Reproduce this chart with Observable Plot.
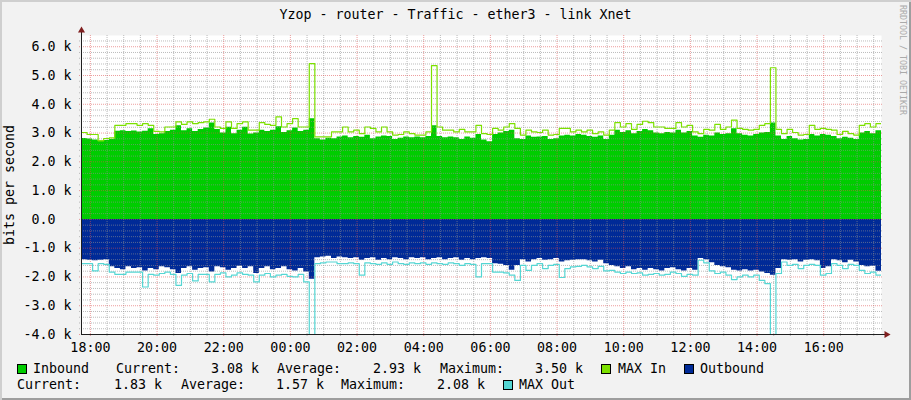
<!DOCTYPE html>
<html><head><meta charset="utf-8">
<script src="https://cdn.jsdelivr.net/npm/d3@7"></script>
<script src="https://cdn.jsdelivr.net/npm/@observablehq/plot@0.6"></script>
<style>
html,body{margin:0;padding:0;background:#f2f2f2;}
#wrap{position:relative;width:911px;height:400px;background:#f2f2f2;overflow:hidden;
  font-family:"DejaVu Sans Mono",monospace;font-size:13.3px;color:#000;
  box-shadow: inset 2px 2px 0 #cfcfcf, inset -2px -2px 0 #9e9e9e;}
#wrap svg{position:absolute;left:0;top:0;}
.t{position:absolute;white-space:pre;line-height:16px;}
.sw{position:absolute;width:8px;height:8px;border:1px solid #000;}
</style></head><body><div id="wrap"></div>
<script>
// ---- data (k bits per second), one value per 10 minutes from 17:44 ----
const titleText = "Yzop - router - Traffic - ether3 - link Xnet";
const yLabel = "bits per second";
const watermark = "RRDTOOL / TOBI OETIKER";
const startUTC = [2024, 0, 1, 17, 44];
const stepMinutes = 10;
const yTicks = [-4, -3, -2, -1, 0, 1, 2, 3, 4, 5, 6];
const seriesNames = ["Inbound", "MAX In", "Outbound", "MAX Out"];
const seriesColors = ["#00CC00", "#7CE000", "#002A97", "#55D6D3"];

const inbound = [
2.81,2.79,2.76,2.72,2.74,2.78,3.06,3.08,3.05,3.07,
3.04,3.06,3.15,2.95,2.98,3.05,3.10,3.25,3.08,3.15,
3.05,3.12,3.18,3.35,3.12,3.00,3.20,2.98,3.10,3.20,
2.97,3.00,3.10,3.05,3.10,3.22,3.02,3.08,3.18,3.05,
3.10,3.50,2.80,2.76,2.82,2.80,2.86,2.90,2.84,2.88,
2.85,2.92,2.80,2.86,2.90,2.88,2.78,2.82,2.86,2.84,
2.86,2.84,2.88,3.25,2.88,2.84,2.86,2.84,2.78,2.86,
2.82,2.95,
2.76,2.70,2.95,3.00,3.05,3.10,2.80,2.78,2.90,2.85,
2.86,2.88,2.78,2.80,2.90,2.92,2.90,2.95,2.92,2.88,
2.85,2.90,2.78,2.92,3.10,3.02,3.08,2.98,3.05,3.12,
3.08,3.00,2.98,3.02,3.00,3.10,3.00,3.05,2.90,2.85,
2.92,2.90,3.00,2.95,2.98,3.15,2.98,2.92,2.90,2.95,
3.00,3.02,3.35,2.90,2.78,2.88,2.80,2.76,2.78,2.95,
2.90,2.95,2.92,2.88,2.80,2.85,2.82,2.78,3.00,3.05,
2.98,3.08];

const maxIn = [
3.02,2.95,2.95,2.73,2.81,2.83,3.27,3.27,3.33,3.33,
3.27,3.33,3.27,3.06,3.04,3.21,3.21,3.39,3.30,3.39,
3.33,3.36,3.39,3.48,3.21,3.16,3.39,3.16,3.33,3.39,
3.10,3.10,3.36,3.30,3.27,3.56,3.21,3.33,3.50,3.21,
3.21,5.41,2.87,2.87,2.87,3.04,3.04,3.21,3.04,3.10,
2.98,3.21,3.16,3.04,3.21,3.04,2.93,2.95,3.04,2.98,
2.93,2.93,3.04,5.34,3.21,3.10,3.10,3.04,3.13,3.04,
3.04,3.27,
2.98,2.95,3.16,3.10,3.21,3.33,3.16,2.93,3.10,3.04,
3.02,3.10,2.93,2.95,3.16,3.16,3.04,3.10,3.04,3.10,
2.98,3.04,2.93,3.10,3.36,3.21,3.33,3.13,3.30,3.41,
3.36,3.21,3.21,3.16,3.16,3.36,3.21,3.27,3.04,2.98,
3.13,3.10,3.30,3.13,3.21,3.45,3.16,3.13,3.10,3.13,
3.27,3.33,5.27,3.13,2.98,3.13,3.02,2.93,2.95,3.27,
3.13,3.16,3.13,3.10,2.95,3.06,2.98,2.93,3.27,3.33,
3.21,3.33];

const outbound = [
-1.40,-1.42,-1.44,-1.42,-1.40,-1.65,-1.71,-1.75,-1.65,-1.71,
-1.68,-1.79,-1.71,-1.75,-1.65,-1.68,-1.75,-1.88,-1.71,-1.65,
-1.77,-1.71,-1.68,-1.83,-1.65,-1.68,-1.77,-1.71,-1.63,-1.71,
-1.65,-1.88,-1.71,-1.65,-1.75,-1.71,-1.65,-1.75,-1.79,-1.71,
-1.83,-2.08,-1.33,-1.31,-1.28,-1.36,-1.31,-1.33,-1.36,-1.33,
-1.42,-1.36,-1.33,-1.42,-1.36,-1.40,-1.33,-1.36,-1.40,-1.33,
-1.36,-1.33,-1.40,-1.36,-1.33,-1.40,-1.36,-1.33,-1.42,-1.36,
-1.40,-1.36,
-1.33,-1.36,-1.54,-1.56,-1.60,-1.77,-1.60,-1.40,-1.48,-1.40,
-1.36,-1.42,-1.40,-1.36,-1.48,-1.44,-1.42,-1.40,-1.40,-1.44,
-1.48,-1.42,-1.54,-1.60,-1.65,-1.71,-1.65,-1.75,-1.71,-1.77,
-1.71,-1.75,-1.79,-1.71,-1.68,-1.75,-1.79,-1.71,-1.77,-1.36,
-1.40,-1.51,-1.60,-1.65,-1.68,-1.77,-1.79,-1.75,-1.79,-1.77,
-1.83,-1.88,-1.94,-1.71,-1.40,-1.42,-1.40,-1.48,-1.42,-1.40,
-1.44,-1.71,-1.65,-1.40,-1.44,-1.51,-1.42,-1.48,-1.60,-1.65,
-1.63,-1.80];

const maxOut = [
-1.54,-1.54,-1.79,-1.54,-1.56,-1.83,-1.91,-1.91,-1.83,-1.83,
-1.83,-2.35,-1.91,-1.94,-1.88,-1.83,-1.91,-2.29,-1.94,-1.88,
-2.14,-1.91,-1.91,-2.17,-1.91,-1.86,-2.00,-1.94,-1.86,-1.91,
-1.94,-2.17,-1.94,-1.88,-2.00,-1.94,-1.91,-1.98,-2.00,-1.91,
-2.17,-4.30,-1.54,-1.51,-1.48,-1.48,-1.54,-1.54,-1.51,-1.54,
-1.94,-1.51,-1.54,-1.56,-1.51,-1.56,-1.48,-1.54,-1.56,-1.51,
-1.54,-1.51,-1.56,-1.51,-1.54,-1.56,-1.51,-1.54,-1.60,-1.54,
-1.56,-2.00,
-1.54,-1.54,-1.83,-1.83,-1.86,-1.94,-2.12,-1.60,-1.77,-1.60,
-1.54,-1.71,-1.60,-1.56,-2.02,-1.71,-1.65,-1.63,-1.60,-1.65,
-1.71,-1.63,-1.79,-1.77,-1.83,-1.88,-1.83,-1.88,-1.86,-1.94,
-1.91,-1.88,-1.94,-1.91,-1.83,-1.88,-1.98,-1.91,-1.94,-1.42,
-1.51,-1.79,-1.88,-1.83,-1.94,-2.09,-2.00,-1.94,-2.00,-1.94,
-2.12,-2.23,-4.30,-1.88,-1.48,-1.60,-1.56,-1.71,-1.60,-1.56,
-1.60,-1.94,-1.88,-1.54,-1.60,-1.71,-1.56,-1.60,-1.77,-1.88,
-1.83,-1.94];

// legend statistics text
const legendLine1 = [
  ["sw", 17, "#00CC00"], ["Inbound", 33], ["Current:", 116], ["3.08 k", 211],
  ["Average:", 277], ["2.93 k", 373], ["Maximum:", 440], ["3.50 k", 535],
  ["sw", 601, "#7CE000"], ["MAX In", 618], ["sw", 684, "#002A97"], ["Outbound", 700]];
const legendLine2 = [
  ["Current:", 17], ["1.83 k", 114], ["Average:", 181], ["1.57 k", 276],
  ["Maximum:", 341], ["2.08 k", 437], ["sw", 503, "#55D6D3"], ["MAX Out", 519]];

// ---- build ----
const x0 = new Date(Date.UTC(...startUTC));
const x1 = new Date(+x0 + 24 * 3600e3);
const n = inbound.length;
const rows = d3.range(n + 1).map(i => {
  const j = Math.min(i, n - 1);
  return {t: new Date(+x0 + i * stepMinutes * 60e3), inb: inbound[j], out: outbound[j], maxIn: maxIn[j], maxOut: maxOut[j]};
});
const yTop = 6.39, yBot = -4;
const majorX = d3.utcHour.every(2).range(x0, x1);
const minorX = d3.utcMinute.every(30).range(x0, x1).filter(d => !(d.getUTCMinutes() === 0 && d.getUTCHours() % 2 === 0));
const majorY = yTicks;
const minorY = d3.range(-20, 32).map(d => d / 5).filter(d => Math.abs(d - Math.round(d)) > 1e-6);

const fmtY = d => d === 0 ? "0.0\u00a0\u00a0" : d.toFixed(1) + " k";

const chart = Plot.plot({
  width: 911, height: 360,
  marginLeft: 81, marginRight: 30, marginTop: 35, marginBottom: 26,
  style: {background: "transparent", fontFamily: "DejaVu Sans Mono", fontSize: "13.3px", color: "#000", overflow: "visible"},
  x: {type: "utc", domain: [x0, x1]},
  y: {domain: [yBot, yTop]},
  marks: [
    Plot.frame({fill: "white", stroke: null}),
    Plot.areaY(rows, {x: "t", y: "inb", fill: seriesColors[0], curve: "step-after"}),
    Plot.areaY(rows, {x: "t", y: "out", fill: seriesColors[2], curve: "step-after"}),
    Plot.ruleY(minorY, {stroke: "#8f8f8f", strokeOpacity: 0.6, strokeDasharray: "1,1", insetLeft: -2, insetRight: -2}),
    Plot.ruleX(minorX, {stroke: "#8f8f8f", strokeOpacity: 0.6, strokeDasharray: "1,1", insetBottom: -2}),
    Plot.ruleY(majorY, {stroke: "#de4f4f", strokeOpacity: 0.55, strokeDasharray: "1,1", insetLeft: -2, insetRight: -2}),
    Plot.ruleX(majorX, {stroke: "#de4f4f", strokeOpacity: 0.55, strokeDasharray: "1,1", insetBottom: -2}),
    Plot.lineY(rows, {x: "t", y: "maxIn", stroke: seriesColors[1], strokeWidth: 1.2, curve: "step-after", clip: true}),
    Plot.lineY(rows, {x: "t", y: "maxOut", stroke: seriesColors[3], strokeWidth: 1.2, curve: "step-after", clip: true}),
    Plot.ruleX([x0], {stroke: "#1f1f1f", insetTop: -3}),
    Plot.ruleY([yBot], {stroke: "#1f1f1f", insetRight: -4}),
    Plot.dot([{x: x0, y: yTop}], {x: "x", y: "y", symbol: "triangle", r: 2.6, fill: "#801f1f", stroke: null, dy: -5}),
    Plot.dot([{x: x1, y: yBot}], {x: "x", y: "y", symbol: "triangle", r: 2.6, fill: "#801f1f", stroke: null, dx: 5, rotate: 90}),
    Plot.axisX({ticks: majorX, tickFormat: d3.utcFormat("%H:%M"), tickSize: 0, tickPadding: 8}),
    Plot.axisY({ticks: majorY, tickFormat: fmtY, tickSize: 0, tickPadding: 10})
  ]
});
const wrap = document.getElementById("wrap");
wrap.appendChild(chart);

function addText(txt, left, top, extra) {
  const d = document.createElement("div");
  d.className = "t"; d.textContent = txt;
  d.style.left = left + "px"; d.style.top = top + "px";
  if (extra) Object.assign(d.style, extra);
  wrap.appendChild(d); return d;
}
addText(titleText, 0, 7, {width: "911px", textAlign: "center"});
addText(yLabel, 10, 185, {transform: "translate(-50%,-50%) rotate(-90deg)"});
addText(watermark, 903, 60, {transform: "translate(-50%,-50%) rotate(90deg)", fontSize: "8.3px", color: "#aaaaaa", lineHeight: "10px"});

function addLegend(items, top) {
  for (const it of items) {
    if (it[0] === "sw") {
      const s = document.createElement("div");
      s.className = "sw"; s.style.left = it[1] + "px"; s.style.top = (top + 3) + "px"; s.style.background = it[2];
      wrap.appendChild(s);
    } else addText(it[0], it[1], top);
  }
}
addLegend(legendLine1, 361);
addLegend(legendLine2, 377);
</script></body></html>
